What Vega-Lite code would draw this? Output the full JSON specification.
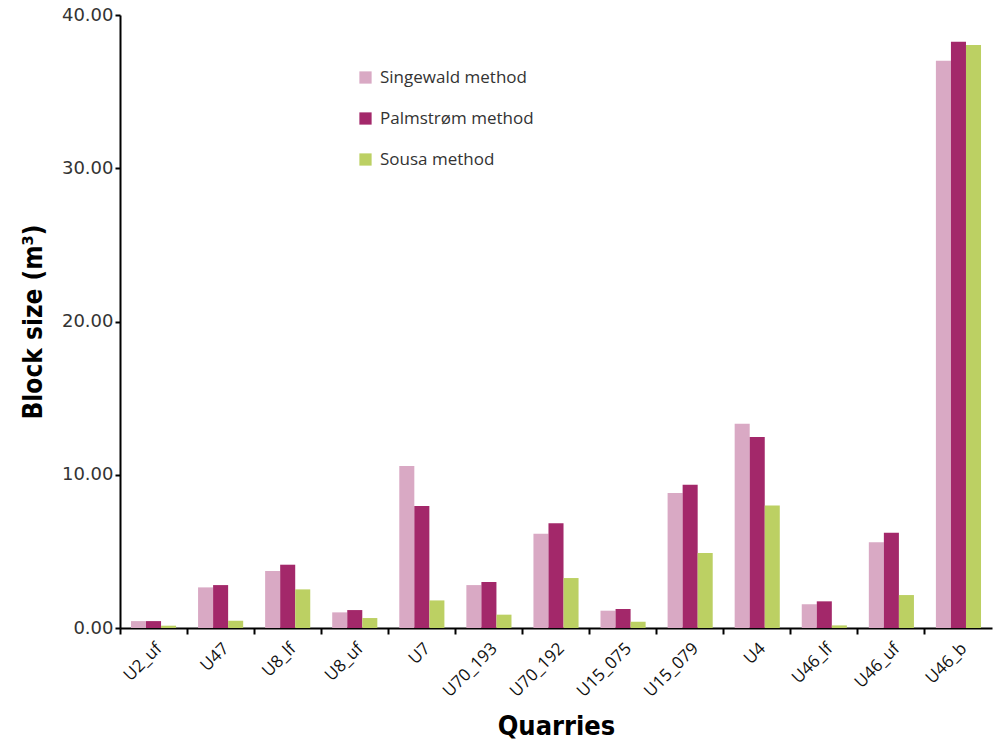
{
  "$schema": "https://vega.github.io/schema/vega-lite/v6.json",
  "width": 872,
  "height": 613,
  "autosize": {"type": "none"},
  "padding": {"left": 120, "top": 15, "right": 2, "bottom": 117},
  "background": "white",
  "config": {"view": {"stroke": null}, "axis": {"grid": false}},
  "data": {
    "values": [
      {"quarry": "U2_uf", "method": "Singewald method", "size": 0.45},
      {"quarry": "U2_uf", "method": "Palmstrøm method", "size": 0.45},
      {"quarry": "U2_uf", "method": "Sousa method", "size": 0.15},
      {"quarry": "U47", "method": "Singewald method", "size": 2.65},
      {"quarry": "U47", "method": "Palmstrøm method", "size": 2.8},
      {"quarry": "U47", "method": "Sousa method", "size": 0.48},
      {"quarry": "U8_lf", "method": "Singewald method", "size": 3.72},
      {"quarry": "U8_lf", "method": "Palmstrøm method", "size": 4.13},
      {"quarry": "U8_lf", "method": "Sousa method", "size": 2.52},
      {"quarry": "U8_uf", "method": "Singewald method", "size": 1.02},
      {"quarry": "U8_uf", "method": "Palmstrøm method", "size": 1.17},
      {"quarry": "U8_uf", "method": "Sousa method", "size": 0.65},
      {"quarry": "U7", "method": "Singewald method", "size": 10.57},
      {"quarry": "U7", "method": "Palmstrøm method", "size": 7.96},
      {"quarry": "U7", "method": "Sousa method", "size": 1.8},
      {"quarry": "U70_193", "method": "Singewald method", "size": 2.8},
      {"quarry": "U70_193", "method": "Palmstrøm method", "size": 3.0},
      {"quarry": "U70_193", "method": "Sousa method", "size": 0.87},
      {"quarry": "U70_192", "method": "Singewald method", "size": 6.15},
      {"quarry": "U70_192", "method": "Palmstrøm method", "size": 6.83},
      {"quarry": "U70_192", "method": "Sousa method", "size": 3.26},
      {"quarry": "U15_075", "method": "Singewald method", "size": 1.13},
      {"quarry": "U15_075", "method": "Palmstrøm method", "size": 1.24},
      {"quarry": "U15_075", "method": "Sousa method", "size": 0.41},
      {"quarry": "U15_079", "method": "Singewald method", "size": 8.81},
      {"quarry": "U15_079", "method": "Palmstrøm method", "size": 9.35},
      {"quarry": "U15_079", "method": "Sousa method", "size": 4.89},
      {"quarry": "U4", "method": "Singewald method", "size": 13.33},
      {"quarry": "U4", "method": "Palmstrøm method", "size": 12.46},
      {"quarry": "U4", "method": "Sousa method", "size": 8.0},
      {"quarry": "U46_lf", "method": "Singewald method", "size": 1.55},
      {"quarry": "U46_lf", "method": "Palmstrøm method", "size": 1.74},
      {"quarry": "U46_lf", "method": "Sousa method", "size": 0.17},
      {"quarry": "U46_uf", "method": "Singewald method", "size": 5.59},
      {"quarry": "U46_uf", "method": "Palmstrøm method", "size": 6.22},
      {"quarry": "U46_uf", "method": "Sousa method", "size": 2.15},
      {"quarry": "U46_b", "method": "Singewald method", "size": 37.02},
      {"quarry": "U46_b", "method": "Palmstrøm method", "size": 38.26},
      {"quarry": "U46_b", "method": "Sousa method", "size": 38.04}
    ]
  },
  "layer": [
    {
      "mark": {"type": "bar"},
      "encoding": {
        "x": {
          "field": "quarry",
          "type": "nominal",
          "sort": null,
          "scale": {"paddingInner": 0, "paddingOuter": 0},
          "axis": {
            "orient": "bottom",
            "title": "Quarries",
            "titleFont": "Liberation Sans Narrow, DejaVu Sans Condensed, Liberation Sans, sans-serif",
            "titleFontWeight": "bold",
            "titleFontSize": 27,
            "titleColor": "black",
            "titlePadding": 14,
            "labelAngle": -45,
            "labelFont": "Open Sans",
            "labelFontSize": 17,
            "labelColor": "#111",
            "labelPadding": 12,
            "ticks": false,
            "domainColor": "black",
            "domainWidth": 2
          }
        },
        "xOffset": {
          "field": "method",
          "type": "nominal",
          "sort": ["Singewald method", "Palmstrøm method", "Sousa method"],
          "scale": {"paddingInner": 0, "paddingOuter": 0.73}
        },
        "y": {
          "field": "size",
          "type": "quantitative",
          "scale": {"domain": [0, 40]},
          "axis": {
            "title": "Block size (m³)",
            "titleFont": "Liberation Sans Narrow, DejaVu Sans Condensed, Liberation Sans, sans-serif",
            "titleFontWeight": "bold",
            "titleFontSize": 26,
            "titleColor": "black",
            "titlePadding": 15,
            "values": [0, 10, 20, 30, 40],
            "format": ".2f",
            "labelFont": "DejaVu Sans",
            "labelFontSize": 18,
            "labelColor": "#333",
            "labelPadding": 2,
            "tickColor": "black",
            "tickWidth": 2,
            "tickSize": 5,
            "domainColor": "black",
            "domainWidth": 2
          }
        },
        "color": {
          "field": "method",
          "type": "nominal",
          "sort": ["Singewald method", "Palmstrøm method", "Sousa method"],
          "scale": {"range": ["#d9a9c4", "#a3286a", "#bcd063"]},
          "legend": {
            "title": null,
            "orient": "none",
            "legendX": 237,
            "legendY": 54,
            "symbolType": "square",
            "symbolSize": 150,
            "symbolStrokeWidth": 0,
            "symbolOpacity": 1,
            "labelFont": "Open Sans",
            "labelFontSize": 17,
            "labelColor": "#333",
            "labelOffset": 6,
            "rowPadding": 23
          }
        }
      }
    },
    {
      "mark": {"type": "bar", "opacity": 0},
      "encoding": {
        "x": {
          "field": "quarry",
          "type": "nominal",
          "sort": null,
          "axis": {
            "orient": "bottom",
            "title": null,
            "labels": false,
            "domain": false,
            "bandPosition": 0,
            "ticks": true,
            "tickColor": "black",
            "tickWidth": 2,
            "tickSize": 6
          }
        },
        "y": {"field": "size", "type": "quantitative"}
      }
    }
  ],
  "resolve": {"axis": {"x": "independent"}}
}
